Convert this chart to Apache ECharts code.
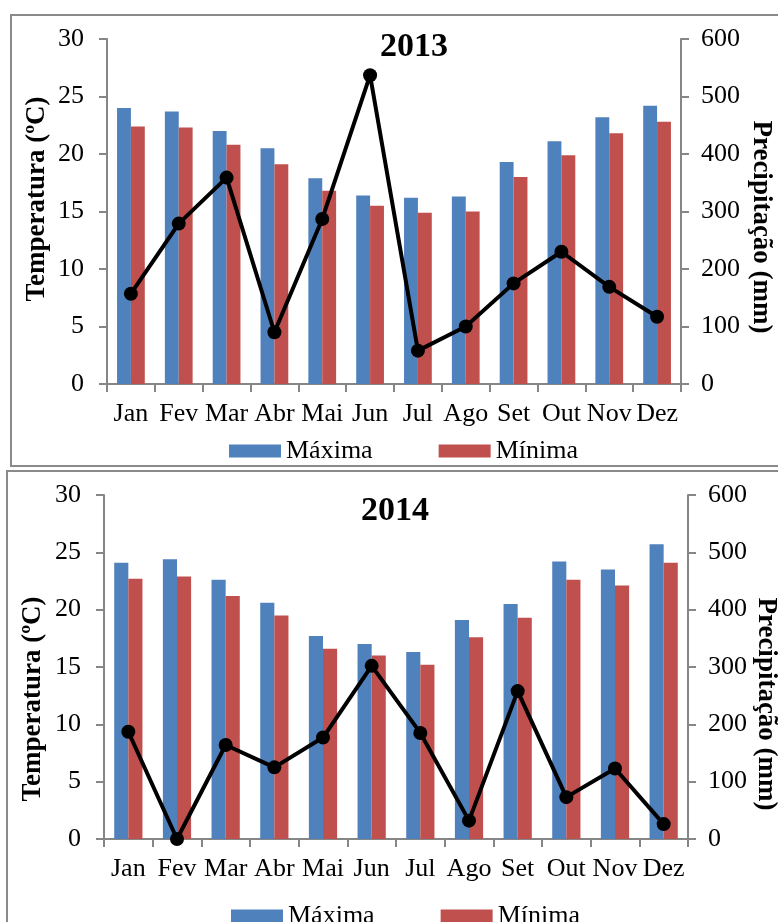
<!DOCTYPE html>
<html>
<head>
<meta charset="utf-8">
<script src="https://cdn.jsdelivr.net/npm/echarts@6/dist/echarts.min.js"></script>
<style>
  html, body { margin: 0; padding: 0; background: #fff; overflow: hidden; }
  .frame { position: absolute; border: 2px solid #8a8a8a; box-sizing: border-box; }
  #chart { position: absolute; left: 0; top: 0; width: 778px; height: 922px; }
</style>
</head>
<body>
<div class="frame" style="left:10px; top:14px; width:800px; height:453px;"></div>
<div class="frame" style="left:6px; top:470px; width:800px; height:480px;"></div>
<div id="chart"></div>
<script>
// Monthly climate data: max/min temperature (ºC) and precipitation (mm)
const months = ['Jan', 'Fev', 'Mar', 'Abr', 'Mai', 'Jun', 'Jul', 'Ago', 'Set', 'Out', 'Nov', 'Dez'];

const max2013 = [24.0, 23.7, 22.0, 20.5, 17.9, 16.4, 16.2, 16.3, 19.3, 21.1, 23.2, 24.2];
const min2013 = [22.4, 22.3, 20.8, 19.1, 16.8, 15.5, 14.9, 15.0, 18.0, 19.9, 21.8, 22.8];
const rain2013 = [157, 279, 359, 90, 287, 537, 58, 100, 175, 230, 169, 117];

const max2014 = [24.1, 24.4, 22.6, 20.6, 17.7, 17.0, 16.3, 19.1, 20.5, 24.2, 23.5, 25.7];
const min2014 = [22.7, 22.9, 21.2, 19.5, 16.6, 16.0, 15.2, 17.6, 19.3, 22.6, 22.1, 24.1];
const rain2014 = [187, 0, 164, 125, 177, 302, 185, 32, 258, 73, 123, 26];

const tempTicks = { min: 0, max: 30, interval: 5 };
const rainTicks = { min: 0, max: 600, interval: 100 };

const FONT = '"Liberation Serif", "Times New Roman", serif';
const AXIS_GRAY = '#868686';
const BLUE = '#4F81BD';
const RED = '#C0504D';

const chart = echarts.init(document.getElementById('chart'), null, { renderer: 'canvas' });

function xAxisFor(gridIndex) {
  return {
    type: 'category', gridIndex, data: months, boundaryGap: true,
    axisLine: { lineStyle: { color: AXIS_GRAY, width: 2 } },
    axisTick: { show: true, alignWithLabel: false, length: 8, lineStyle: { color: AXIS_GRAY, width: 2 } },
    axisLabel: { color: '#000', fontFamily: FONT, fontSize: 26, margin: 17, interval: 0 }
  };
}
function yAxisFor(gridIndex, ticks, position, margin) {
  return {
    type: 'value', gridIndex, position, min: ticks.min, max: ticks.max, interval: ticks.interval,
    splitLine: { show: false },
    axisLine: { show: true, lineStyle: { color: AXIS_GRAY, width: 2 } },
    axisTick: { show: true, length: 8, lineStyle: { color: AXIS_GRAY, width: 2 } },
    axisLabel: { color: '#000', fontFamily: FONT, fontSize: 26, margin }
  };
}
function barSeries(name, data, color, xi, yi) {
  return {
    name, type: 'bar', data, xAxisIndex: xi, yAxisIndex: yi,
    itemStyle: { color }, barGap: '0%', barCategoryGap: '42%', z: 2
  };
}
function rainSeries(data, xi, yi) {
  return {
    name: 'Precipitação', type: 'line', data, xAxisIndex: xi, yAxisIndex: yi,
    symbol: 'circle', symbolSize: 14,
    lineStyle: { color: '#000', width: 4 },
    itemStyle: { color: '#000' }, z: 5
  };
}
function legendFor(left, top) {
  return {
    data: ['Máxima', 'Mínima'], left, top, orient: 'horizontal',
    itemWidth: 52, itemHeight: 13, itemGap: 66, icon: 'rect',
    textStyle: { fontFamily: FONT, fontSize: 26, color: '#000', padding: [0, 0, 0, 0] },
    selectedMode: false
  };
}
function label(text, x, y, size, rotation) {
  return {
    type: 'text', x, y, rotation: rotation || 0,
    style: {
      text, fontFamily: FONT, fontSize: size, fontWeight: 'bold', fill: '#000',
      textAlign: 'center', textVerticalAlign: 'middle'
    }
  };
}

chart.setOption({
  animation: false,
  grid: [
    { left: 107, right: 97, top: 39, height: 345 },
    { left: 104, right: 90, top: 495, height: 344 }
  ],
  xAxis: [xAxisFor(0), xAxisFor(1)],
  yAxis: [
    yAxisFor(0, tempTicks, 'left', 23),
    yAxisFor(0, rainTicks, 'right', 20),
    yAxisFor(1, tempTicks, 'left', 23),
    yAxisFor(1, rainTicks, 'right', 20)
  ],
  legend: [legendFor(224, 433), legendFor(226, 898)],
  series: [
    barSeries('Máxima', max2013, BLUE, 0, 0),
    barSeries('Mínima', min2013, RED, 0, 0),
    rainSeries(rain2013, 0, 1),
    barSeries('Máxima', max2014, BLUE, 1, 2),
    barSeries('Mínima', min2014, RED, 1, 2),
    rainSeries(rain2014, 1, 3)
  ],
  graphic: [
    label('2013', 414, 47, 34),
    label('2014', 395, 511, 34),
    label('Temperatura (ºC)', 37, 199, 27, Math.PI / 2),
    label('Precipitação (mm)', 761, 227, 27, -Math.PI / 2),
    label('Temperatura (ºC)', 33, 699, 27, Math.PI / 2),
    label('Precipitação (mm)', 766, 704, 27, -Math.PI / 2)
  ]
});
</script>
</body>
</html>
